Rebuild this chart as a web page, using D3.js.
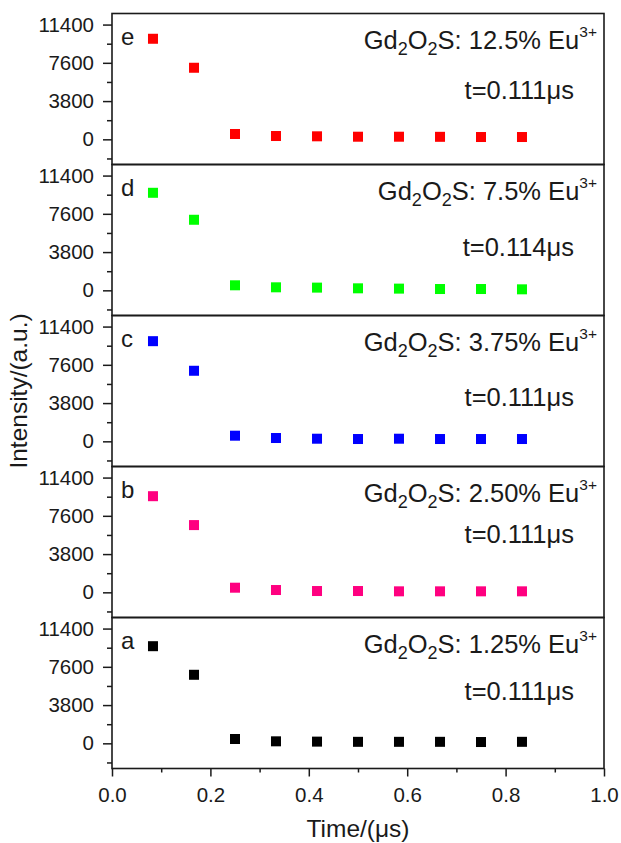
<!DOCTYPE html>
<html>
<head>
<meta charset="utf-8">
<script src="https://cdn.jsdelivr.net/npm/d3@7"></script>
<style>
  html, body { margin: 0; padding: 0; background: #fff; }
  svg text { font-family: "Liberation Sans", Arial, sans-serif; fill: #1a1a1a; }
</style>
</head>
<body>
<svg id="chart" width="621" height="843"></svg>
<script>
'use strict';

// decay data, one panel per Eu3+ concentration (top to bottom)
var timeUs = [0.0833, 0.1667, 0.25, 0.3333, 0.4167, 0.5, 0.5833, 0.6667, 0.75, 0.8333];
var intensityE = [9990, 7110, 530, 330, 300, 260, 260, 250, 230, 230];
var intensityD = [9690, 7010, 500, 300, 270, 200, 170, 130, 130, 100];
var intensityC = [9950, 7010, 560, 330, 260, 230, 260, 230, 230, 230];
var intensityB = [9550, 6680, 460, 230, 130, 130, 100, 100, 100, 100];
var intensityA = [9650, 6810, 430, 200, 170, 150, 150, 150, 130, 150];

var panelLetters = ['e', 'd', 'c', 'b', 'a'];
var concentrations = ['12.5%', '7.5%', '3.75%', '2.50%', '1.25%'];
var lifetimes = ['0.111', '0.114', '0.111', '0.111', '0.111'];
var seriesColors = ['#ff0000', '#00ff00', '#0000ff', '#ff0080', '#000000'];

var yMajorTicks = [0, 3800, 7600, 11400];
var yMinorTicks = [-1900, 1900, 5700, 9500];
var xMajorTicks = [0, 0.2, 0.4, 0.6, 0.8, 1.0];
var xMinorTicks = [0.1, 0.3, 0.5, 0.7, 0.9];

var series = [intensityE, intensityD, intensityC, intensityB, intensityA];

// layout
var LEFT = 112, RIGHT = 604, TOP = 13.5, BOTTOM = 768.5;
var PANEL_H = (BOTTOM - TOP) / series.length;
var MARKER = 10;
var AXIS_COLOR = '#1a1a1a';
var lifetimeOffset = [85, 91, 90, 76, 82];

var svg = d3.select('#chart');

var x = d3.scaleLinear().domain([0, 1]).range([LEFT, RIGHT]);

function styleAxis(g) {
  g.select('.domain').remove();
  g.selectAll('.tick line').attr('stroke', AXIS_COLOR).attr('stroke-width', 1.5);
  g.selectAll('.tick text').attr('font-size', '20.5px').attr('fill', AXIS_COLOR);
}

series.forEach(function (values, i) {
  var top = TOP + i * PANEL_H;
  var y = d3.scaleLinear().domain([-2500, 12500]).range([top + PANEL_H, top]);
  var panel = svg.append('g').attr('class', 'panel');

  panel.append('g')
    .attr('transform', 'translate(' + LEFT + ',0)')
    .call(d3.axisLeft(y).tickValues(yMinorTicks).tickSize(5).tickFormat(''))
    .call(styleAxis);

  panel.append('g')
    .attr('transform', 'translate(' + LEFT + ',0)')
    .call(d3.axisLeft(y).tickValues(yMajorTicks).tickSize(9).tickPadding(9).tickFormat(d3.format('d')))
    .call(styleAxis);

  panel.selectAll('rect.pt')
    .data(values)
    .enter().append('rect')
    .attr('class', 'pt')
    .attr('x', function (d, k) { return x(timeUs[k]) - MARKER / 2; })
    .attr('y', function (d) { return y(d) - MARKER / 2; })
    .attr('width', MARKER)
    .attr('height', MARKER)
    .attr('fill', seriesColors[i]);

  panel.append('rect')
    .attr('x', LEFT)
    .attr('y', top)
    .attr('width', RIGHT - LEFT)
    .attr('height', PANEL_H)
    .attr('fill', 'none')
    .attr('stroke', AXIS_COLOR)
    .attr('stroke-width', 1.6);

  panel.append('text')
    .attr('x', LEFT + 9)
    .attr('y', top + 31)
    .attr('font-size', '24px')
    .text(panelLetters[i]);

  var label = panel.append('text')
    .attr('x', 597)
    .attr('y', top + 35)
    .attr('text-anchor', 'end')
    .attr('font-size', '25.5px');
  label.append('tspan').text('Gd');
  label.append('tspan').attr('font-size', '18px').attr('dy', 6).text('2');
  label.append('tspan').attr('dy', -6).text('O');
  label.append('tspan').attr('font-size', '18px').attr('dy', 6).text('2');
  label.append('tspan').attr('dy', -6).text('S: ' + concentrations[i] + ' Eu');
  label.append('tspan').attr('font-size', '15.5px').attr('dy', -12).text('3+');

  panel.append('text')
    .attr('x', 574)
    .attr('y', top + lifetimeOffset[i])
    .attr('text-anchor', 'end')
    .attr('font-size', '25.5px')
    .text('t=' + lifetimes[i] + '\u03bcs');
});

svg.append('g')
  .attr('transform', 'translate(0,' + BOTTOM + ')')
  .call(d3.axisBottom(x).tickValues(xMinorTicks).tickSize(4).tickFormat(''))
  .call(styleAxis);

svg.append('g')
  .attr('transform', 'translate(0,' + BOTTOM + ')')
  .call(d3.axisBottom(x).tickValues(xMajorTicks).tickSize(8).tickPadding(11).tickFormat(d3.format('.1f')))
  .call(styleAxis);

svg.append('text')
  .attr('x', (LEFT + RIGHT) / 2)
  .attr('y', 837)
  .attr('text-anchor', 'middle')
  .attr('font-size', '24.5px')
  .text('Time/(\u03bcs)');

svg.append('text')
  .attr('transform', 'translate(27,' + ((TOP + BOTTOM) / 2) + ') rotate(-90)')
  .attr('text-anchor', 'middle')
  .attr('font-size', '24.5px')
  .text('Intensity/(a.u.)');
</script>
</body>
</html>
